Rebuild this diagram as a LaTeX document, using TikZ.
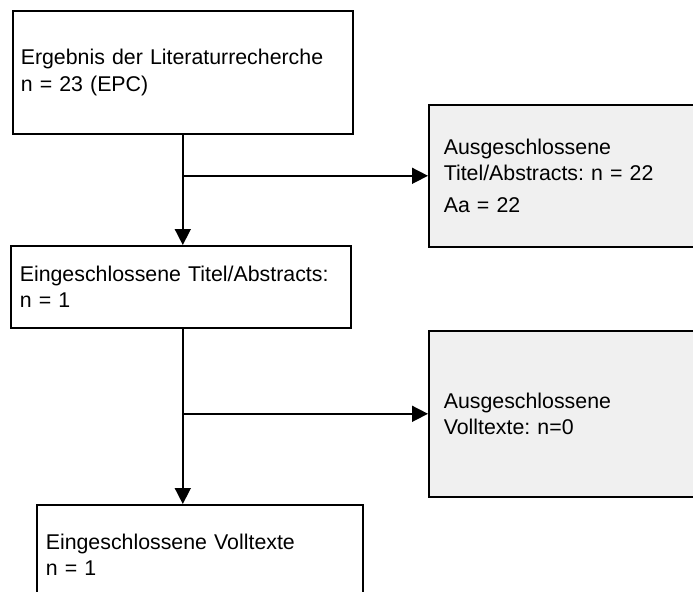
\documentclass[tikz,border=0pt]{standalone}
\usepackage{fontspec}
\setmainfont{Liberation Sans}
\usetikzlibrary{arrows.meta}
\definecolor{exclgray}{HTML}{F0F0F0}
\frenchspacing

\begin{document}
\begin{tikzpicture}[x=0.75pt,y=-0.75pt,
  font=\fontsize{16}{20}\selectfont,
  box/.style={draw=black, line width=1.2pt, anchor=north west, align=left, inner ysep=0pt},
  excl/.style={box, fill=exclgray, inner xsep=11.25pt, text width=187.5pt},
  flow/.style={line width=1.2pt, -{Triangle[length=12pt,width=12pt]}}]
\useasboundingbox (0,0) rectangle (693,592);
\clip (0,0) rectangle (693,592);
\node[box, inner xsep=6pt, text width=243pt, minimum height=92.25pt] (lit) at (12,10)
  {Ergebnis der Literaturrecherche\\n = 23 (EPC)};
\node[excl, minimum height=106.5pt] (excl1) at (428,104)
  {Ausgeschlossene\\Titel/Abstracts: n = 22\\[4pt]Aa = 22};
\node[box, inner xsep=6.75pt, text width=241.5pt, minimum height=61.5pt] (incl1) at (10,245)
  {Eingeschlossene Titel/Abstracts:\\n = 1};
\node[excl, minimum height=124.5pt] (excl2) at (428,330)
  {Ausgeschlossene\\Volltexte: n=0};
\node[box, inner xsep=6.75pt, text width=231pt, minimum height=75pt] (incl2) at (36,504)
  {Eingeschlossene Volltexte\\n = 1};

\draw[flow] (lit.south) -- (lit.south |- incl1.north);
\coordinate (b1) at (lit.south |- excl1.west);
\draw[flow] (b1) -- (excl1.west);
\draw[flow] (lit.south |- incl1.south) -- (lit.south |- incl2.north);
\coordinate (b2) at (lit.south |- excl2.west);
\draw[flow] (b2) -- (excl2.west);
\end{tikzpicture}
\end{document}
